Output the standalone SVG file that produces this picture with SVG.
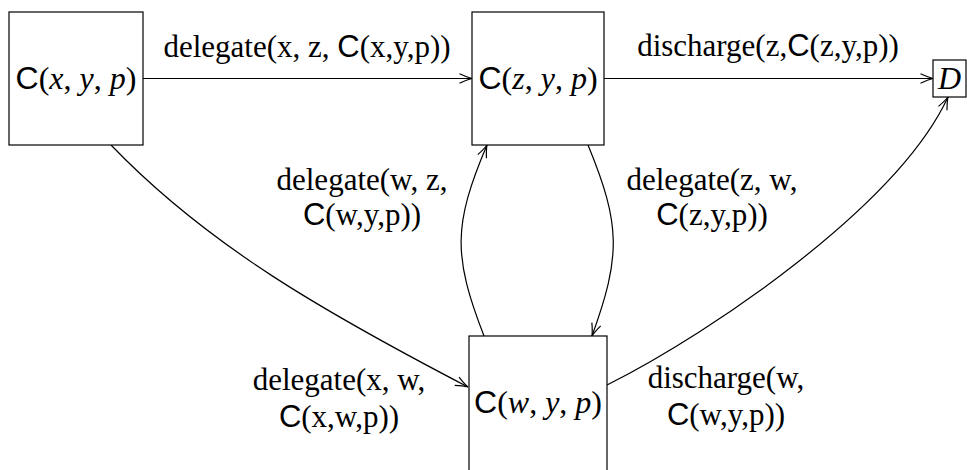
<svg xmlns="http://www.w3.org/2000/svg" width="967" height="470" viewBox="0 0 967 470">
<style>
.box{fill:#fff;stroke:#000;stroke-width:1.2}
.lbl{font-family:"Liberation Serif",serif;font-size:31px;fill:#000;text-anchor:middle}
.nl{font-family:"Liberation Serif",serif;font-size:32px;fill:#000;text-anchor:middle}
.sf{font-family:"Liberation Sans",sans-serif}
.mi{font-style:italic}
.edge{fill:none;stroke:#000;stroke-width:1.2;marker-end:url(#arr)}
</style>
<defs>
<marker id="arr" markerUnits="userSpaceOnUse" viewBox="-15 -7 17 14" markerWidth="17" markerHeight="14" refX="0" refY="0" orient="auto">
<path d="M-12.5,-4.7 Q-5,-1.2 0,0 Q-5,1.2 -12.5,4.7" fill="none" stroke="#000" stroke-width="1.2"/>
</marker>
</defs>
<rect width="967" height="470" fill="#fff"/>
<g id="connectors">
<path class="edge" d="M143,78.5 L472,78.5"/>
<path class="edge" d="M604,78.5 L933,78.5"/>
<path class="edge" d="M111,145 C208,246 326,313 468,387"/>
<path class="edge" d="M484,336 C453,256 453,225 487,145"/>
<path class="edge" d="M588,145 C621,225 621,256 592,336"/>
<path class="edge" d="M607,385 C714,331 898,205 948,97"/>
</g>
<g id="node-x">
<rect class="box" x="9" y="12" width="134" height="133"/>
<text class="nl" x="76" y="89"><tspan class="sf">C</tspan>(<tspan class="mi">x</tspan>, <tspan class="mi">y</tspan>, <tspan class="mi">p</tspan>)</text>
</g>
<g id="node-z">
<rect class="box" x="472" y="12" width="132" height="133"/>
<text class="nl" x="538" y="89"><tspan class="sf">C</tspan>(<tspan class="mi">z</tspan>, <tspan class="mi">y</tspan>, <tspan class="mi">p</tspan>)</text>
</g>
<g id="node-w">
<rect class="box" x="469" y="336" width="138" height="136"/>
<text class="nl" x="538" y="413"><tspan class="sf">C</tspan>(<tspan class="mi">w</tspan>, <tspan class="mi">y</tspan>, <tspan class="mi">p</tspan>)</text>
</g>
<g id="node-D">
<rect class="box" x="933" y="60" width="33" height="37"/>
<text class="nl" x="949.5" y="89"><tspan class="mi">D</tspan></text>
</g>
<g id="labels">
<text class="lbl" x="307" y="57">delegate(x, z, <tspan class="sf">C</tspan>(x,y,p))</text>
<text class="lbl" x="768" y="56">discharge(z,<tspan class="sf">C</tspan>(z,y,p))</text>
<text class="lbl" x="362" y="190">delegate(w, z,</text>
<text class="lbl" x="362" y="225"><tspan class="sf">C</tspan>(w,y,p))</text>
<text class="lbl" x="712" y="190">delegate(z, w,</text>
<text class="lbl" x="712" y="225"><tspan class="sf">C</tspan>(z,y,p))</text>
<text class="lbl" x="339" y="390">delegate(x, w,</text>
<text class="lbl" x="339" y="427"><tspan class="sf">C</tspan>(x,w,p))</text>
<text class="lbl" x="726" y="388">discharge(w,</text>
<text class="lbl" x="726" y="425"><tspan class="sf">C</tspan>(w,y,p))</text>
</g>
</svg>
